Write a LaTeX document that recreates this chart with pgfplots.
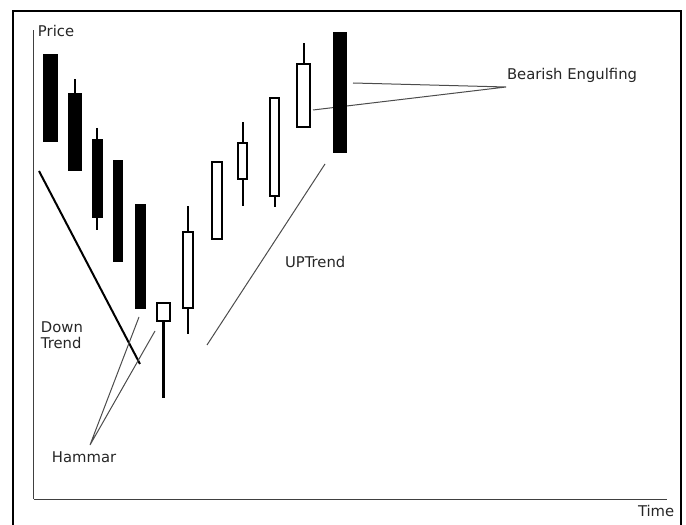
\documentclass[border=0pt]{standalone}
\usepackage{pgfplots}
\pgfplotsset{compat=1.18}
\usepgfplotslibrary{statistics}
\usepackage{fontspec}
\setmainfont{DejaVu Sans}
\tikzset{lbl/.style={font=\fontsize{7.4pt}{8.8pt}\selectfont, text=black!85, inner sep=0pt, outer sep=0pt, anchor=base west}}
\begin{document}
\begin{tikzpicture}
\begin{axis}[
  x=0.5pt, y=0.5pt,
  xmin=0, xmax=633, ymin=0, ymax=469,
  axis x line*=bottom, axis y line*=left,
  axis line style={-, line width=0.5pt, black!75},
  ticks=none,
  clip=false,
  boxplot/draw direction=y,
]
% annotation lines
\addplot[line width=1pt, black] coordinates {(5,328) (106,135)};
\addplot[line width=0.5pt, black!70] coordinates {(105,182) (56,54) (121,168)};
\addplot[line width=0.5pt, black!70] coordinates {(173,154) (291,335)};
\addplot[line width=0.5pt, black!70] coordinates {(319,416) (472,412) (279,389)};
% candles: position, lower whisker, body low, body high, upper whisker, width, fill
\newcommand{\candle}[7]{%
  \addplot[draw=black, line width=1pt, fill=#7,
    boxplot prepared={draw position=#1, lower whisker=#2, lower quartile=#3,
      median=#3, upper quartile=#4, upper whisker=#5, box extend=#6, whisker extend=0}]
    coordinates {};}
\candle{16.5}{358}{358}{444}{444}{13}{black}
\candle{41}{329}{329}{405}{420}{12}{black}
\candle{63.5}{269}{282}{359}{371}{9}{black}
\candle{84}{238}{238}{338}{338}{8}{black}
\candle{106.5}{191}{191}{294}{294}{9}{black}
\candle{129.5}{101}{178}{196}{196}{13}{white}
\candle{154}{165}{191}{267}{293}{10}{white}
\candle{183}{260}{260}{337}{337}{10}{white}
\candle{208.5}{293}{320}{356}{377}{9}{white}
\candle{240.5}{292}{303}{401}{401}{9}{white}
\candle{269.5}{372}{372}{435}{456}{13}{white}
\candle{306}{347}{347}{466}{466}{12}{black}
% labels
\node[lbl] at (axis cs:4,462) {Price};
\node[lbl] at (axis cs:473,419) {Bearish Engulfing};
\node[lbl] at (axis cs:251,231) {UPTrend};
\node[lbl] at (axis cs:7,166) {Down};
\node[lbl] at (axis cs:7,150) {Trend};
\node[lbl] at (axis cs:18,36) {Hammar};
\node[lbl] at (axis cs:604,-18) {Time};
% outer frame
\draw[line width=1pt, black] (axis cs:-21,-40) -- (axis cs:-21,488) -- (axis cs:647,488) -- (axis cs:647,-40);
\coordinate (bl) at (axis cs:-34,-26);
\coordinate (tr) at (axis cs:652,499);
\end{axis}
\pgfresetboundingbox
\path[use as bounding box] (bl) rectangle (tr);
\end{tikzpicture}
\end{document}
